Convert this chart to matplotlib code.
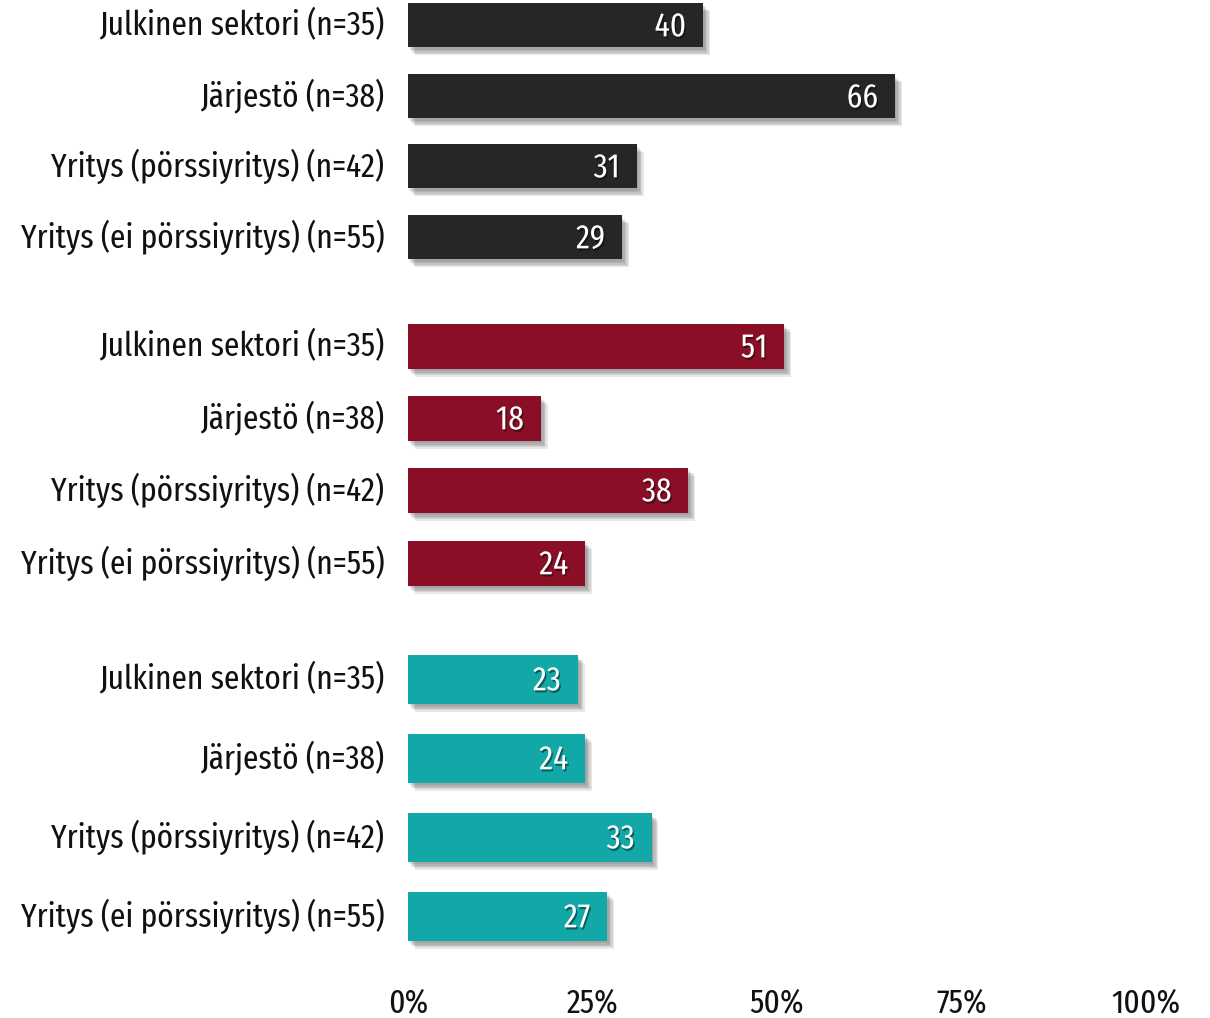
import matplotlib
matplotlib.use('Agg')
import matplotlib.pyplot as plt
import matplotlib.patheffects as pe

# data
labels = ["Julkinen sektori (n=35)", "Järjestö (n=38)",
          "Yritys (pörssiyritys) (n=42)", "Yritys (ei pörssiyritys) (n=55)"]
group1 = [40, 66, 31, 29]
group2 = [51, 18, 38, 24]
group3 = [23, 24, 33, 27]
xticks = [0, 25, 50, 75, 100]
xtick_labels = ["0%", "25%", "50%", "75%", "100%"]

colors = ["#262626", "#8a0f26", "#12a8a8"]

# layout (pixel-ish units, top = 0)
centers = [[25, 96, 166, 237], [346, 418, 490, 563], [679, 758, 837, 916]]
heights = [44, 45, 49]

plt.rcParams['font.family'] = ['Fira Sans Extra Condensed', 'DejaVu Sans']

fig = plt.figure(figsize=(12.1, 10.18), dpi=100)
H = 1018
ax = fig.add_axes([408 / 1210, 0, 738 / 1210, 1])
ax.set_xlim(0, 100)
ax.set_ylim(H, 0)
ax.axis('off')

# soft drop shadow: a few stacked faint offsets
shadow = [pe.SimplePatchShadow(offset=(o, -o - 1), shadow_rgbFace='#444444', alpha=0.12)
          for o in (1, 2, 3, 4, 5)] + [pe.Normal()]
tshadow = [pe.SimplePatchShadow(offset=(1, -1.5), shadow_rgbFace='#000000', alpha=0.45), pe.Normal()]

fs = 24.5
for gi, vals in enumerate([group1, group2, group3]):
    bars = ax.barh(centers[gi], vals, height=heights[gi], color=colors[gi], left=0)
    for b in bars:
        b.set_path_effects(shadow)
    for y, v, lab in zip(centers[gi], vals, labels):
        ax.text(v - 2.3, y + 2, str(v), color='white', fontsize=fs,
                ha='right', va='center', path_effects=tshadow)
        ax.text(-3.2, y, lab, color='#111111', fontsize=fs,
                ha='right', va='center')

for x, t in zip(xticks, xtick_labels):
    ax.text(x, 1003, t, color='#111111', fontsize=fs, ha='center', va='center')

fig.savefig('out.png', dpi=100)
